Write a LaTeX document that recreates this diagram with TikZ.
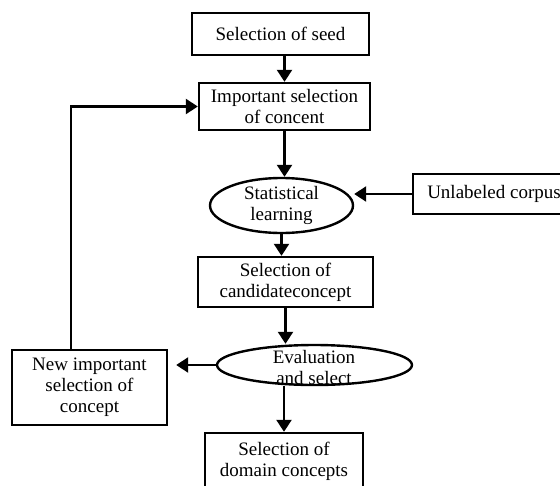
\documentclass[tikz,border=0pt]{standalone}
\usepackage{fontspec}
\setmainfont{Liberation Serif}
\usetikzlibrary{shapes,arrows.meta}

\begin{document}
\begin{tikzpicture}[->,x=1pt,y=1pt,line width=2.4pt,>={Triangle[width=15pt,length=12pt]},
  box node/.style={rectangle,draw,align=center,inner sep=0pt,font=\fontsize{19}{21}\selectfont},
  oval node/.style={ellipse,draw,align=center,inner sep=0pt,font=\fontsize{19}{21}\selectfont},
  text node/.style={align=center,inner sep=0pt,font=\fontsize{19}{21}\selectfont}]
  \useasboundingbox (0,0) rectangle (560,-485);

  \node[box node,minimum width=177pt,minimum height=42pt] (1) at (280.5,-34) {Selection of seed};
  \node[box node,minimum width=171pt,minimum height=47pt] (2) at (284.5,-106.5) {Important selection\\of concent};
  \node[oval node,minimum width=143pt,minimum height=55pt] (3) at (281.5,-205.5) {Statistical\\learning};
  \node[box node,minimum width=162pt,minimum height=40pt] (4) at (494,-194) {Unlabeled corpus};
  \node[box node,minimum width=175pt,minimum height=50pt] (5) at (285.5,-282) {Selection of\\candidateconcept};
  \node[oval node,minimum width=195pt,minimum height=40pt] (6) at (314.5,-365) {};
  \node[text node] (6t) at (314,-367) {Evaluation\\and select};
  \node[box node,minimum width=155pt,minimum height=75pt] (7) at (89.5,-387.5) {New important\\selection of\\concept};
  \node[box node,minimum width=158pt,minimum height=57pt] (8) at (284,-461.5) {Selection of\\domain concepts};

  \draw (2.north |- 1.south) -- (2.north);
  \draw (2.south) -- (2.south |- 3.north);
  \draw (3.south) -- (3.south |- 5.north);
  \draw (4.west) -- (3.east |- 4.west);
  \draw (5.south) -- (5.south |- 6.north);
  \draw (8.north |- 6.south) -- (8.north);
  \draw[shorten >=8pt] (6.west) -- (6.west -| 7.east);
  \draw ([xshift=-18.5pt]7.north) |- (2.west);
\end{tikzpicture}
\end{document}
